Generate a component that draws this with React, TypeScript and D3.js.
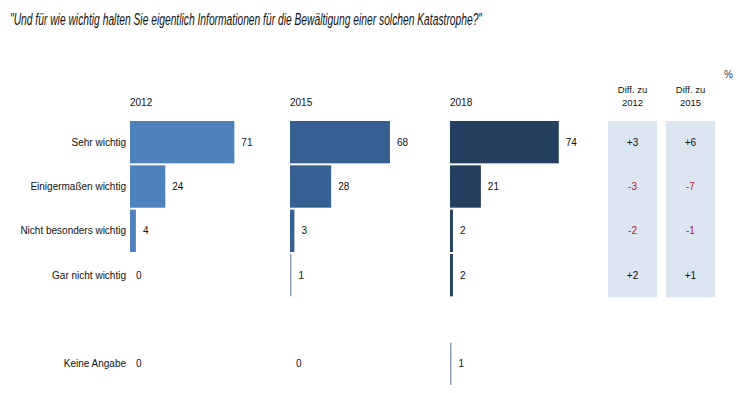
import * as d3 from "d3";

const title =
  '"Und für wie wichtig halten Sie eigentlich Informationen für die Bewältigung einer solchen Katastrophe?"';

const categories = [
  "Sehr wichtig",
  "Einigermaßen wichtig",
  "Nicht besonders wichtig",
  "Gar nicht wichtig",
  "",
  "Keine Angabe",
];
const years = ["2012", "2015", "2018"];
const values2012 = [71, 24, 4, 0, null, 0];
const values2015 = [68, 28, 3, 1, null, 0];
const values2018 = [74, 21, 2, 2, null, 1];
const diffHeaders = ["2012", "2015"];
const diffTo2012 = [3, -3, -2, 2];
const diffTo2015 = [6, -7, -1, 1];

const seriesValues = [values2012, values2015, values2018];
const yearColors = ["#4f81bd", "#376092", "#243f60"];

const W = 750;
const H = 393;
const FONT = "'Liberation Sans', Arial, sans-serif";

export default function App() {
  // rows (one empty row between the main answers and "Keine Angabe")
  const yScale = d3
    .scaleBand<string>()
    .domain(categories.map((c, i) => String(i)))
    .range([121, 385])
    .paddingInner(0.045)
    .paddingOuter(0);

  // panel position of each year
  const panelX = d3.scalePoint<string>().domain(years).range([130, 450]);

  // bar length
  const xScale = d3.scaleLinear().domain([0, 100]).range([0, 147]);

  // diff columns
  const diffX = d3.scaleBand<string>().domain(diffHeaders).range([608, 715]).paddingInner(0.155);
  const diffTop = yScale("0")!;
  const diffBottom = yScale("3")! + yScale.bandwidth() + 1;

  const fmtDiff = (v: number) => (v > 0 ? "+" + v : String(v));

  return (
    <div style={{ position: "absolute", left: 0, top: 0 }}>
      <svg width={W} height={H} style={{ display: "block", background: "#fff" }}>
        <text
          x={10}
          y={25}
          fontFamily={FONT}
          fontStyle="italic"
          fontSize={16}
          fill="#111"
          textLength={472}
          lengthAdjust="spacingAndGlyphs"
        >
          {title}
        </text>

        {/* category labels */}
        {categories.map((c, i) => (
          <text
            key={"c" + i}
            x={126}
            y={yScale(String(i))! + yScale.bandwidth() / 2}
            dy="0.35em"
            textAnchor="end"
            fontFamily={FONT}
            fontSize={10}
            fill="#111"
          >
            {c}
          </text>
        ))}

        {/* year panels */}
        {years.map((yr, k) => {
          const x0 = panelX(yr)!;
          return (
            <g key={yr}>
              <text x={x0} y={106} fontFamily={FONT} fontSize={10} fill="#111">
                {yr}
              </text>
              {seriesValues[k].map((v, i) => {
                if (v === null) return null;
                const y = yScale(String(i))!;
                const w = xScale(v);
                return (
                  <g key={i}>
                    {v > 0 && (
                      <rect
                        x={x0}
                        y={y}
                        width={w}
                        height={yScale.bandwidth()}
                        fill={v === 1 ? "#8c9db3" : yearColors[k]}
                      />
                    )}
                    <text
                      x={x0 + w + (v === 0 ? 6 : 7)}
                      y={y + yScale.bandwidth() / 2}
                      dy="0.35em"
                      fontFamily={FONT}
                      fontSize={10}
                      fill="#111"
                    >
                      {v}
                    </text>
                  </g>
                );
              })}
            </g>
          );
        })}

        {/* diff columns */}
        {diffHeaders.map((h, k) => {
          const x = diffX(h)!;
          const cx = x + diffX.bandwidth() / 2;
          const vals = k === 0 ? diffTo2012 : diffTo2015;
          return (
            <g key={h}>
              <text x={cx} y={93} textAnchor="middle" fontFamily={FONT} fontSize={9.5} fill="#111">
                Diff. zu
              </text>
              <text x={cx} y={106} textAnchor="middle" fontFamily={FONT} fontSize={9.5} fill="#111">
                {h}
              </text>
              <rect x={x} y={diffTop} width={diffX.bandwidth()} height={diffBottom - diffTop} fill="#dce6f1" />
              {vals.map((v, i) => (
                <text
                  key={i}
                  x={cx}
                  y={yScale(String(i))! + yScale.bandwidth() / 2}
                  dy="0.35em"
                  textAnchor="middle"
                  fontFamily={FONT}
                  fontSize={10}
                  fill={v < 0 ? "#c0143c" : "#111"}
                >
                  {fmtDiff(v)}
                </text>
              ))}
            </g>
          );
        })}

        <text x={724} y={78} fontFamily={FONT} fontSize={10} fill="#333">
          %
        </text>
      </svg>
    </div>
  );
}
